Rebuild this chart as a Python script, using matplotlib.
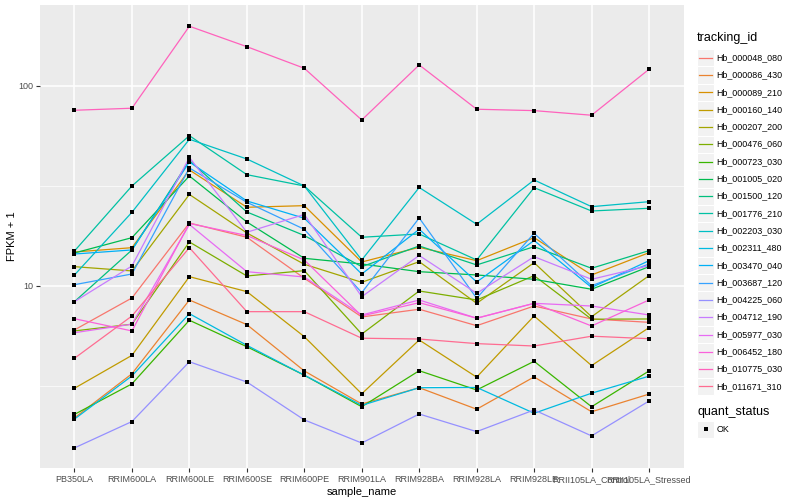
import numpy as np
import matplotlib
matplotlib.use("Agg")
import matplotlib.pyplot as plt
from matplotlib.patches import Rectangle
from matplotlib.ticker import NullLocator

plt.rcParams['font.family'] = ['Liberation Sans', 'DejaVu Sans']

# samples on the x axis
samples = ["PB350LA", "RRIM600LA", "RRIM600LE", "RRIM600SE", "RRIM600PE",
           "RRIM901LA", "RRIM928BA", "RRIM928LA", "RRIM928LE",
           "RRII105LA_Control", "RRII105LA_Stressed"]

tracking_ids = ["Hb_000048_080", "Hb_000086_430", "Hb_000089_210", "Hb_000160_140",
                "Hb_000207_200", "Hb_000476_060", "Hb_000723_030", "Hb_001005_020",
                "Hb_001500_120", "Hb_001776_210", "Hb_002203_030", "Hb_002311_480",
                "Hb_003470_040", "Hb_003687_120", "Hb_004225_060", "Hb_004712_190",
                "Hb_005977_030", "Hb_006452_180", "Hb_010775_030", "Hb_011671_310"]

# ggplot default hue palette for 20 levels
colors = ["#F8766D", "#EA8331", "#D89000", "#C09B00", "#A3A500", "#7CAE00",
          "#39B600", "#00BB4E", "#00BF7D", "#00C1A3", "#00BFC4", "#00BAE0",
          "#00B0F6", "#35A2FF", "#9590FF", "#C77CFF", "#E76BF3", "#FA62DB",
          "#FF62BC", "#FF6C91"]

# FPKM + 1, one list per gene
fpkm = [
    [6.03, 8.71, 20.65, 17.52, 10.93, 7.00, 7.65, 6.33, 7.94, 6.84, 6.58],
    [2.19, 3.64, 8.51, 6.41, 3.76, 2.57, 3.10, 2.42, 3.51, 2.35, 2.88],
    [14.79, 15.54, 38.02, 24.75, 25.21, 13.18, 15.61, 13.38, 17.44, 11.35, 14.67],
    [3.08, 4.50, 11.13, 9.37, 5.58, 2.89, 5.37, 3.50, 7.08, 4.00, 6.19],
    [12.49, 11.89, 28.68, 18.41, 12.84, 10.43, 13.23, 8.19, 13.08, 7.02, 11.26],
    [5.96, 6.44, 16.60, 11.22, 11.93, 5.75, 9.44, 8.51, 11.26, 6.82, 6.84],
    [2.28, 3.24, 6.74, 4.97, 3.58, 2.49, 3.77, 3.02, 4.20, 2.49, 3.76],
    [14.62, 17.44, 35.48, 20.89, 13.75, 12.88, 11.79, 11.35, 10.80, 9.63, 12.49],
    [8.35, 15.14, 42.41, 23.44, 17.88, 12.49, 15.85, 12.74, 15.72, 12.26, 15.02],
    [14.96, 31.62, 56.43, 36.02, 31.62, 17.52, 18.20, 13.49, 31.01, 23.71, 24.46],
    [11.35, 23.36, 54.14, 43.15, 31.62, 13.49, 31.08, 20.35, 33.88, 24.92, 26.39],
    [2.16, 3.55, 7.27, 5.05, 3.58, 2.53, 3.10, 3.11, 2.31, 2.91, 3.54],
    [14.45, 15.14, 41.69, 26.61, 21.81, 11.48, 19.21, 10.47, 16.88, 9.83, 13.38],
    [10.15, 11.48, 38.90, 26.21, 19.21, 9.26, 21.88, 8.68, 18.34, 10.03, 12.88],
    [1.55, 2.10, 4.18, 3.31, 2.14, 1.64, 2.29, 1.87, 2.40, 1.78, 2.66],
    [8.35, 12.59, 43.90, 18.56, 22.78, 8.84, 14.21, 9.19, 14.01, 10.80, 12.64],
    [5.84, 6.44, 20.30, 11.79, 11.09, 7.16, 8.51, 6.90, 8.19, 7.94, 7.16],
    [6.86, 5.96, 20.54, 17.88, 13.49, 7.08, 8.25, 6.90, 8.19, 6.31, 8.51],
    [75.6, 77.4, 198.9, 157.2, 122.6, 67.6, 127.4, 76.5, 75.3, 71.4, 121.2],
    [4.35, 7.08, 15.54, 7.44, 7.44, 5.48, 5.43, 5.15, 5.01, 5.61, 5.45],
]

W, H = 800, 500
fig = plt.figure(figsize=(8, 5), dpi=100)
# panel in pixel units: left 40, right 683.5, top 5, bottom 468
ax = fig.add_axes([40 / W, 32 / H, 643.5 / W, 463 / H])
ax.set_facecolor('#EBEBEB')
for s in ax.spines.values():
    s.set_visible(False)

x = np.arange(len(samples))
for vals, c in zip(fpkm, colors):
    ax.plot(x, vals, color=c, lw=0.9, zorder=2)
for vals in fpkm:
    ax.scatter(x, vals, marker='s', s=7, color='black', zorder=3, linewidths=0)

ax.set_yscale('log')
ax.set_ylim(1.23, 254)
ax.set_xlim(-0.6, len(samples) - 0.4)
ax.set_yticks([10, 100])
ax.set_yticklabels(['10', '100'])
ax.yaxis.set_minor_locator(NullLocator())
ax.set_xticks(x)
ax.set_xticklabels(samples)

# grid lines like ggplot
ax.set_axisbelow(True)
ax.grid(True, which='major', color='white', lw=1.1)
for m in [10 ** 0.5, 10 ** 1.5]:
    ax.axhline(m, color='white', lw=0.5, zorder=0.5)

ax.tick_params(length=3, width=0.8, color='#333333', labelsize=6.5,
               labelcolor='#4D4D4D', pad=2)
ax.set_xlabel('sample_name', fontsize=8, labelpad=2)
ax.set_ylabel('FPKM + 1', fontsize=8, labelpad=1)

# legends drawn in pixel space
lg = fig.add_axes([0, 0, 1, 1], facecolor='none')
lg.set_xlim(0, W)
lg.set_ylim(H, 0)
lg.axis('off')

lg.text(697, 38, 'tracking_id', fontsize=9, va='center', ha='left')
for i, (name, c) in enumerate(zip(tracking_ids, colors)):
    yc = 57.7 + i * 17.3
    lg.add_patch(Rectangle((697, yc - 8.6), 17, 17.3, facecolor='#F2F2F2',
                           edgecolor='white', lw=0.8))
    lg.plot([698.5, 712], [yc, yc], color=c, lw=0.9)
    lg.text(716.5, yc, name, fontsize=6.4, va='center', ha='left')

lg.text(697, 412, 'quant_status', fontsize=9, va='center', ha='left')
lg.add_patch(Rectangle((697, 429.3 - 8.6), 17, 17.3, facecolor='#F2F2F2',
                       edgecolor='white', lw=0.8))
lg.scatter([705.5], [429.3], marker='s', s=7, color='black', linewidths=0)
lg.text(716.5, 429.3, 'OK', fontsize=6.4, va='center', ha='left')

fig.savefig('out.png', dpi=100)
